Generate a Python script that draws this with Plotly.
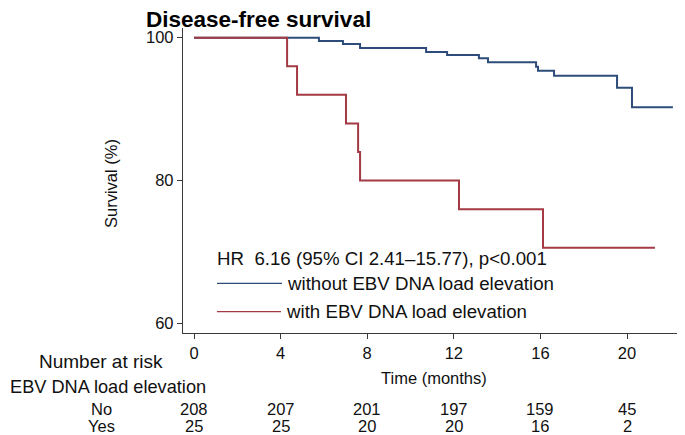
import plotly.graph_objects as go

# ---- data ----
no_times = [0, 5.77, 6.88, 7.67, 10.72, 11.69, 13.16, 13.58, 15.80, 15.89, 16.63, 19.54, 20.23, 22.12]
no_surv = [100, 99.54, 99.12, 98.56, 98.0, 97.58, 97.12, 96.56, 95.94, 95.38, 94.68, 93.0, 90.26, 90.26]

yes_times = [0, 4.30, 4.76, 7.02, 7.58, 7.67, 12.24, 16.12, 21.29]
yes_surv = [100, 96, 92, 88, 84, 80, 76, 70.6, 70.6]

risk_times = [0, 4, 8, 12, 16, 20]
risk_no = [208, 207, 201, 197, 159, 45]
risk_yes = [25, 25, 20, 20, 16, 2]

x_ticks = [0, 4, 8, 12, 16, 20]
y_ticks = [60, 80, 100]

title_text = "Disease-free survival"
hr_text = "HR  6.16 (95% CI 2.41\u201315.77), p<0.001"
label_no = "without EBV DNA load elevation"
label_yes = "with EBV DNA load elevation"

BLUE = "#2d4c7a"
RED = "#a33a44"
AXIS = "#3a3a3a"
FONT = "Liberation Sans, Arial, sans-serif"

OFF = 8  # page body margin
W, H = 685 - OFF, 435 - OFF
L, T = 183 - OFF, 28 - OFF
PLOT_RIGHT, PLOT_BOTTOM = 683 - OFF, 333 - OFF
R, B = W - PLOT_RIGHT, H - PLOT_BOTTOM
PW, PH = PLOT_RIGHT - L, PLOT_BOTTOM - T


def px_x(p):
    return (p - OFF - L) / PW


def px_y(p):
    return (PLOT_BOTTOM - (p - OFF)) / PH


fig = go.Figure()
fig.add_trace(go.Scatter(x=no_times, y=no_surv, mode="lines", line=dict(shape="hv", color=BLUE, width=2),
                         name=label_no, showlegend=False, hoverinfo="skip"))
fig.add_trace(go.Scatter(x=yes_times, y=yes_surv, mode="lines", line=dict(shape="hv", color=RED, width=2),
                         name=label_yes, showlegend=False, hoverinfo="skip"))

ann = []
ann.append(dict(text="<b>%s</b>" % title_text, xref="paper", yref="paper", x=px_x(144), y=px_y(19.5),
                xanchor="left", yanchor="middle", showarrow=False, font=dict(size=22.5, color="black", family=FONT)))
ann.append(dict(text="Survival (%)", xref="paper", yref="paper", x=px_x(111), y=px_y(184), textangle=-90,
                xanchor="center", yanchor="middle", showarrow=False, font=dict(size=16.5, color="#111", family=FONT)))
ann.append(dict(text="Time (months)", xref="paper", yref="paper", x=px_x(434), y=px_y(378),
                xanchor="center", yanchor="middle", showarrow=False, font=dict(size=16.5, color="#111", family=FONT)))
ann.append(dict(text=hr_text, xref="paper", yref="paper", x=px_x(215), y=px_y(258.5),
                xanchor="left", yanchor="middle", showarrow=False, font=dict(size=18.7, color="#111", family=FONT)))
ann.append(dict(text=label_no, xref="paper", yref="paper", x=px_x(285), y=px_y(283),
                xanchor="left", yanchor="middle", showarrow=False, font=dict(size=18.7, color="#111", family=FONT)))
ann.append(dict(text=label_yes, xref="paper", yref="paper", x=px_x(284), y=px_y(311),
                xanchor="left", yanchor="middle", showarrow=False, font=dict(size=18.7, color="#111", family=FONT)))
ann.append(dict(text="Number at risk", xref="paper", yref="paper", x=px_x(101), y=px_y(361),
                xanchor="center", yanchor="middle", showarrow=False,
                font=dict(size=19, color="#111", family=FONT)))
for txt, py in [("No", 408.5), ("Yes", 425.5)]:
    ann.append(dict(text=txt, xref="paper", yref="paper", x=px_x(101), y=px_y(py),
                    xanchor="center", yanchor="middle", showarrow=False,
                    font=dict(size=16.5, color="#111", family=FONT)))
ann.append(dict(text="EBV DNA load elevation", xref="paper", yref="paper", x=px_x(OFF), y=px_y(387),
                xanchor="left", yanchor="middle", showarrow=False,
                font=dict(size=18.2, color="#111", family=FONT)))
for t, n_no, n_yes in zip(risk_times, risk_no, risk_yes):
    ann.append(dict(text=str(n_no), xref="x", yref="paper", x=t, y=px_y(408.5), xanchor="center",
                    yanchor="middle", showarrow=False, font=dict(size=16.5, color="#111", family=FONT)))
    ann.append(dict(text=str(n_yes), xref="x", yref="paper", x=t, y=px_y(425.5), xanchor="center",
                    yanchor="middle", showarrow=False, font=dict(size=16.5, color="#111", family=FONT)))

shapes = [
    dict(type="line", xref="paper", yref="paper", x0=px_x(217), x1=px_x(282), y0=px_y(283.3), y1=px_y(283.3),
         line=dict(color=BLUE, width=1.3)),
    dict(type="line", xref="paper", yref="paper", x0=px_x(217), x1=px_x(281), y0=px_y(311.7), y1=px_y(311.7),
         line=dict(color=RED, width=1.3)),
]

px_per_month = 21.65
x0 = -(194 - 183) / px_per_month
x1 = x0 + PW / px_per_month
px_per_unit = 7.145
y_top = 100 + (37.7 - 28) / px_per_unit
y_bot = y_top - PH / px_per_unit

fig.update_layout(
    width=W, height=H, margin=dict(l=L, r=R, t=T, b=B, autoexpand=False),
    paper_bgcolor="white", plot_bgcolor="white",
    font=dict(family=FONT, color="#111"),
    xaxis=dict(range=[x0, x1], tickvals=x_ticks, ticks="outside", ticklen=5, tickwidth=1.2, tickcolor=AXIS,
               showline=True, linecolor=AXIS, linewidth=1.4, showgrid=False, zeroline=False,
               tickfont=dict(size=16.5, color="#111", family=FONT)),
    yaxis=dict(range=[y_bot, y_top], tickvals=y_ticks, ticks="outside", ticklen=5, tickwidth=1.2, tickcolor=AXIS,
               showline=True, linecolor=AXIS, linewidth=1.4, showgrid=False, zeroline=False,
               tickfont=dict(size=16.5, color="#111", family=FONT)),
    annotations=ann, shapes=shapes, showlegend=False,
)

fig.write_html("out.html")
